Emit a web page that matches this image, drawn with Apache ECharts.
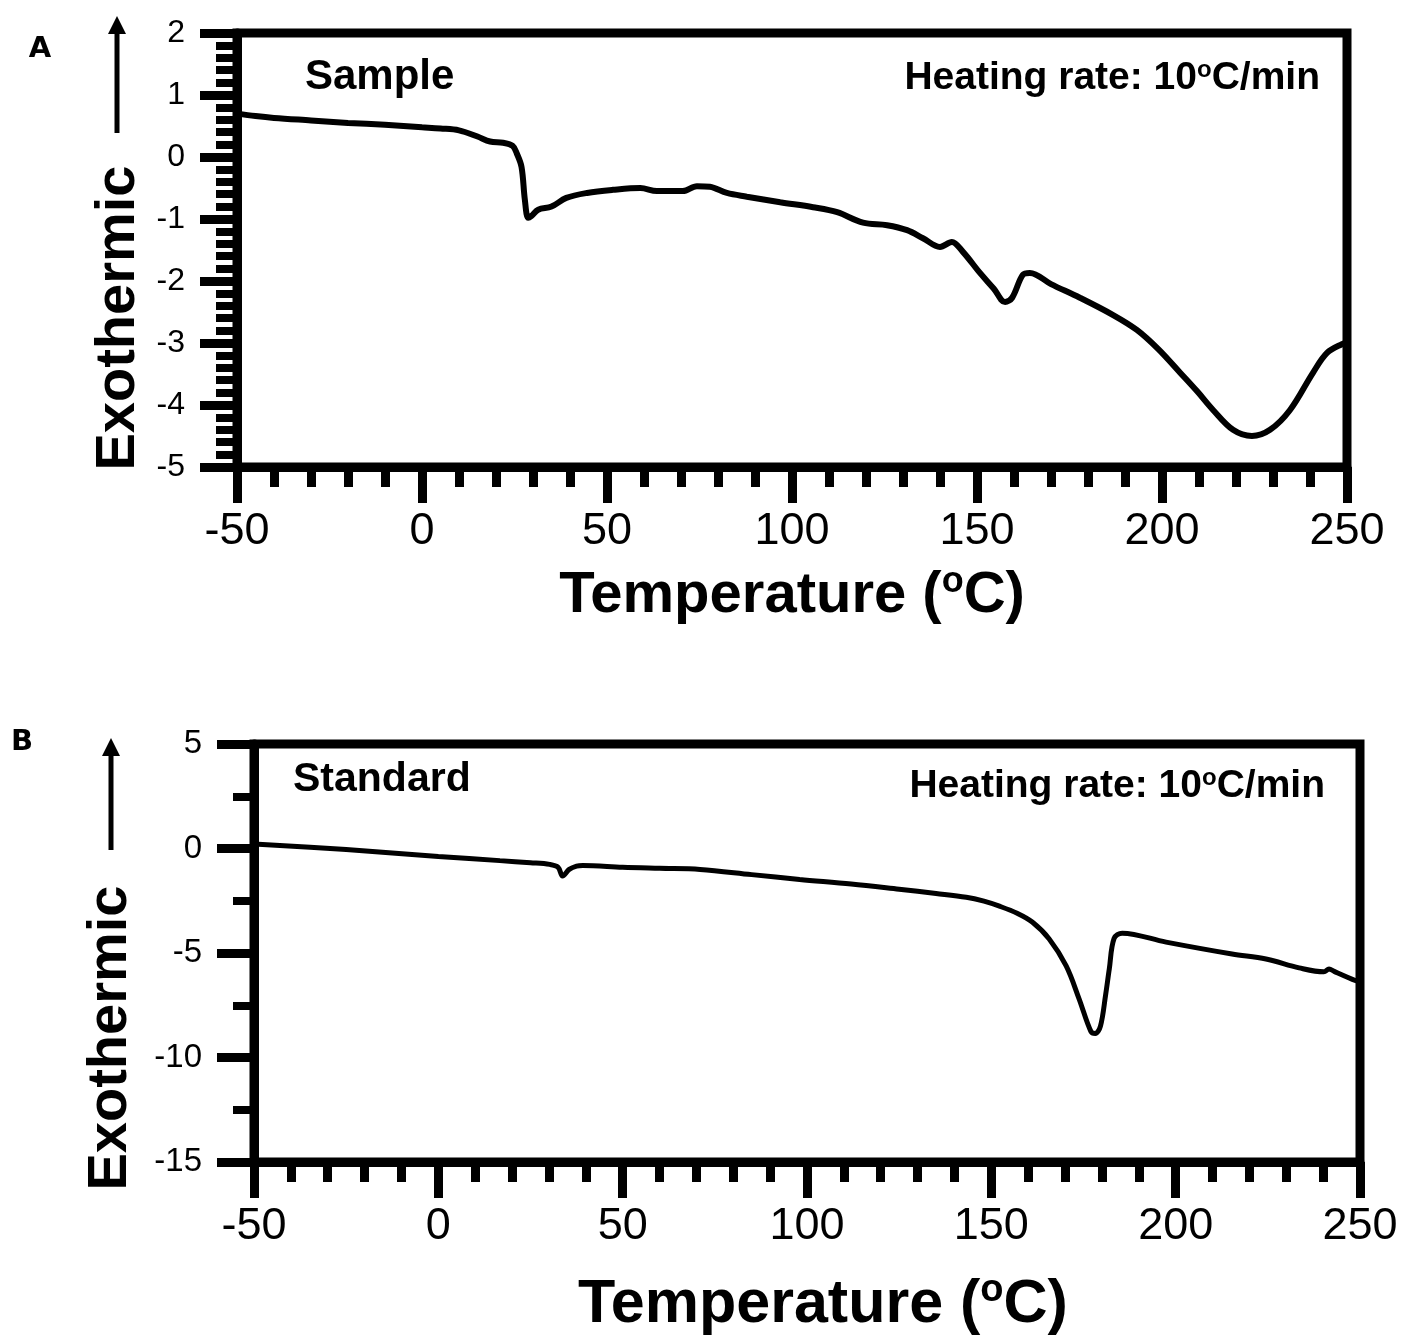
<!DOCTYPE html>
<html>
<head>
<meta charset="utf-8">
<script src="https://cdn.jsdelivr.net/npm/echarts@6/dist/echarts.min.js"></script>
<style>
html, body { margin: 0; padding: 0; background: #fff; }
#main { width: 1401px; height: 1337px; }
</style>
</head>
<body>
<div id="main"></div>
<script>
// panel A: sample
const sampleTemp = [-50, -45, -40, -30, -20, -10, 0, 5, 10, 15, 18.4, 21.9, 24.5, 25.6, 26.9, 27.8, 28.7, 29.6, 31.4, 35,
    39, 44.6, 51.6, 59, 63.5, 70.5, 74.3, 77.8, 82.4, 87.8, 96.8, 105.7, 112.2, 119.2, 125.7, 131.1, 135.4, 140, 143.2, 146.2,
    150.8, 154.5, 157.6, 159.5, 162.4, 164.3, 170, 177.8, 186.8, 193.2, 199, 204.9, 209.5, 213.8, 219.2, 224.3, 229.2, 234.6,
    240.8, 244.6, 248.6, 250];
const sampleHeat = [0.70, 0.66, 0.63, 0.59, 0.55, 0.52, 0.48, 0.46, 0.43, 0.33, 0.25, 0.23, 0.18, 0.06, -0.16, -0.69, -0.98, -0.95, -0.85, -0.80,
    -0.66, -0.58, -0.53, -0.50, -0.55, -0.55, -0.47, -0.48, -0.58, -0.64, -0.73, -0.81, -0.89, -1.06, -1.10, -1.18, -1.31, -1.45, -1.37, -1.53,
    -1.87, -2.12, -2.34, -2.27, -1.90, -1.87, -2.05, -2.27, -2.55, -2.79, -3.10, -3.48, -3.78, -4.08, -4.40, -4.50, -4.40, -4.08,
    -3.48, -3.16, -3.02, -3.00];
const sampleRange = [-5, 2];

// panel B: standard
const standardTemp = [-50, -25, 0, 16.7, 25, 30.2, 32.5, 33.7, 35.5, 37.5, 39.2, 50, 60, 71, 85, 98, 112, 125, 135, 143.2,
    148, 152.2, 157, 161.1, 165.7, 170.3, 173.8, 177, 178.2, 179.6, 181, 182, 183.3, 185.5, 197.4, 215.3, 224.5, 233.5, 240.2, 241.6,
    243, 248.9, 250];
const standardHeat = [0.22, -0.05, -0.38, -0.58, -0.68, -0.76, -0.90, -1.32, -1.00, -0.84, -0.81, -0.90, -0.95, -1.00, -1.25, -1.48, -1.70, -1.95, -2.15, -2.33,
    -2.52, -2.76, -3.10, -3.52, -4.33, -5.62, -7.19, -8.75, -8.85, -8.50, -7.00, -5.76, -4.30, -4.05, -4.48, -5.05, -5.29, -5.71, -5.90, -5.76,
    -5.88, -6.33, -6.38];
const standardRange = [-15, 5];

const tempRange = [-50, 250];

const font = '"Liberation Sans", Arial, sans-serif';
const chart = echarts.init(document.getElementById('main'));

function pairs(xs, ys) {
    return xs.map((x, i) => [x, ys[i]]);
}

function xAxisFor(gridIndex, nameGap, nameSize, pad) {
    return {
        gridIndex: gridIndex,
        type: 'value',
        min: tempRange[0],
        max: tempRange[1],
        interval: 50,
        axisLine: { onZero: false, lineStyle: { color: '#000', width: 9 } },
        axisTick: { length: 36, lineStyle: { color: '#000', width: 9 } },
        minorTick: { show: true, splitNumber: 5, length: 20, lineStyle: { color: '#000', width: 9 } },
        splitLine: { show: false },
        axisLabel: { color: '#000', fontSize: 45, fontFamily: font, margin: 42, showMinLabel: true, showMaxLabel: true },
        name: 'Temperature ({sup|o}C)',
        nameLocation: 'middle',
        nameGap: nameGap,
        nameTextStyle: {
            color: '#000', fontSize: nameSize, fontWeight: 'bold', fontFamily: font,
            lineHeight: nameSize + 6, padding: pad,
            rich: { sup: { fontSize: Math.round(nameSize * 0.62), fontWeight: 'bold', fontFamily: font, color: '#000', verticalAlign: 'top' } }
        }
    };
}

function yAxisFor(gridIndex, range, interval, minorSplit, labelSize) {
    return {
        gridIndex: gridIndex,
        type: 'value',
        min: range[0],
        max: range[1],
        interval: interval,
        axisLine: { onZero: false, lineStyle: { color: '#000', width: 9 } },
        axisTick: { length: 37, lineStyle: { color: '#000', width: 9 } },
        minorTick: { show: true, splitNumber: minorSplit, length: 21, lineStyle: { color: '#000', width: 8 } },
        splitLine: { show: false },
        axisLabel: { color: '#000', fontSize: labelSize, fontFamily: font, margin: 52, showMinLabel: true, showMaxLabel: true }
    };
}

function label(text, x, y, size, align, extra) {
    return Object.assign({
        type: 'text',
        x: x,
        y: y,
        style: {
            text: text,
            fill: '#000',
            font: 'bold ' + size + 'px ' + font,
            align: align,
            textAlign: align,
            verticalAlign: 'middle',
            textVerticalAlign: 'middle',
            rich: { sup: { fontSize: Math.round(size * 0.62), fontWeight: 'bold', fontFamily: font, fill: '#000', verticalAlign: 'top' } }
        }
    }, extra || {});
}

function panelLetter(text, x, y) {
    return {
        type: 'text', x: x, y: y,
        style: { text: text, fill: '#000', font: 'bold 29px "DejaVu Sans", sans-serif', align: 'center', textAlign: 'center', verticalAlign: 'middle', textVerticalAlign: 'middle' }
    };
}

function arrow(x, tip, tail) {
    return [
        { type: 'line', shape: { x1: x, y1: tail, x2: x, y2: tip + 14 }, style: { stroke: '#000', lineWidth: 5 } },
        { type: 'polygon', shape: { points: [[x, tip], [x - 9, tip + 18], [x + 9, tip + 18]] }, style: { fill: '#000' } }
    ];
}

const option = {
    animation: false,
    backgroundColor: '#fff',
    grid: [
        { left: 237, top: 33, width: 1110, height: 434, show: true, borderColor: '#000', borderWidth: 9, containLabel: false, outerBoundsMode: 'none' },
        { left: 254, top: 744, width: 1106, height: 418, show: true, borderColor: '#000', borderWidth: 9, containLabel: false, outerBoundsMode: 'none' }
    ],
    xAxis: [
        xAxisFor(0, 97, 58, [0, 0, 0, 0]),
        xAxisFor(1, 110, 61, [0, 0, 0, 32])
    ],
    yAxis: [
        yAxisFor(0, sampleRange, 1, 5, 32),
        yAxisFor(1, standardRange, 5, 2, 33)
    ],
    series: [
        {
            type: 'line', xAxisIndex: 0, yAxisIndex: 0,
            data: pairs(sampleTemp, sampleHeat),
            showSymbol: false, smooth: 0.35,
            lineStyle: { color: '#000', width: 6 }
        },
        {
            type: 'line', xAxisIndex: 1, yAxisIndex: 1,
            data: pairs(standardTemp, standardHeat),
            showSymbol: false, smooth: 0.35,
            lineStyle: { color: '#000', width: 5 }
        }
    ],
    graphic: [
        panelLetter('A', 40, 49),
        panelLetter('B', 22, 742),
        label('Sample', 305, 77, 42, 'left'),
        label('Heating rate: 10{sup|o}C/min', 1320, 78, 39, 'right'),
        label('Standard', 293, 780, 41, 'left'),
        label('Heating rate: 10{sup|o}C/min', 1325, 786, 39, 'right'),
        label('Exothermic', 119, 318, 56, 'center', { rotation: Math.PI / 2 }),
        label('Exothermic', 111, 1038, 56, 'center', { rotation: Math.PI / 2 })
    ].concat(arrow(117, 16, 133), arrow(111, 738, 850))
};

chart.setOption(option);
</script>
</body>
</html>
